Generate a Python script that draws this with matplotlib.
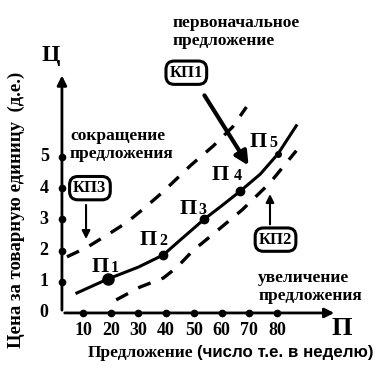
import matplotlib
matplotlib.use("Agg")
import matplotlib.pyplot as plt

# ================= DATA =================
# original supply (solid)
supply_q = [7.8, 19, 30, 39, 45, 53.7, 60, 66.7, 74, 80.4, 87]
supply_p = [0.64, 1.09, 1.47, 1.86, 2.33, 3.0, 3.43, 3.9, 4.45, 5.1, 6.0]
point_q = [19, 39, 53.7, 66.7, 80.4]
point_p = [1.09, 1.86, 3.0, 3.9, 5.1]
point_names = ["1", "2", "3", "4", "5"]

# reduced supply (upper dashed)
up_q = [4.2, 11.4, 19.8, 25.8, 32, 38.5, 49, 57, 64, 69]
up_p = [1.8, 2.1, 2.56, 2.9, 3.35, 3.85, 4.74, 5.35, 5.96, 6.6]

# increased supply (lower dashed)
low_q = [22, 30.6, 39, 44, 49.7, 55.8, 67.4, 77.5, 87]
low_p = [0.42, 0.83, 1.12, 1.47, 2.0, 2.44, 3.3, 4.17, 5.2]

x_ticks = [10, 20, 30, 40, 50, 60, 70, 80]
y_ticks = [0, 1, 2, 3, 4, 5]

SERIF = "Liberation Serif"
SANS = "Liberation Sans"

# ================= FIGURE =================
fig = plt.figure(figsize=(3.88, 3.66), dpi=100)
ax = fig.add_axes([0, 0, 1, 1])
ax.set_xlim(-19.96, 120.1)
ax.set_ylim(-1.70, 10.03)
ax.axis("off")

x0 = 2.4  # where the price axis stands

# axes with arrows
ax.annotate("", xy=(x0, 7.7), xytext=(x0, 0),
            arrowprops=dict(arrowstyle="-|>", lw=2, color="black", mutation_scale=14))
ax.annotate("", xy=(101.7, 0), xytext=(x0, 0),
            arrowprops=dict(arrowstyle="-|>", lw=2, color="black", mutation_scale=14))

# tick dots and labels
ax.plot(x_ticks, [0] * len(x_ticks), "o", color="black", ms=4.5)
ax.plot([x0] * (len(y_ticks) - 1), y_ticks[1:], "o", color="black", ms=4.5)
for q in x_ticks:
    ax.text(q, -0.55, str(q), ha="center", va="center", fontsize=13,
            family=SERIF, weight="bold")
for p in y_ticks:
    ax.text(x0 - 6.4, p, str(p), ha="center", va="center", fontsize=13,
            family=SERIF, weight="bold")

# curves
ax.plot(supply_q, supply_p, color="black", lw=2.2)
ax.plot(up_q, up_p, color="black", lw=2.4, dashes=(4, 3.5))
ax.plot(low_q, low_p, color="black", lw=2.4, dashes=(4, 3.5))
ax.plot(point_q[:1], point_p[:1], "o", color="black", ms=8)
ax.plot(point_q[1:4], point_p[1:4], "o", color="black", ms=6)
ax.plot(point_q[4:], point_p[4:], "o", color="black", ms=4)

# point names
name_pos = [(13.2, 1.31), (30.6, 2.18), (44.7, 3.17), (56.6, 4.26), (70.3, 5.32)]
sub_gap = [6.8, 6.8, 6.8, 7.8, 6.8]
for (q, p), n, g in zip(name_pos, point_names, sub_gap):
    ax.text(q, p, "П", ha="left", va="baseline", fontsize=16,
            family=SERIF, weight="bold")
    ax.text(q + g, p, n, ha="left", va="baseline", fontsize=11.5,
            family=SERIF, weight="bold")

# axis names
ax.text(-1.8, 8.25, "Ц", ha="center", va="center", fontsize=17,
        family=SERIF, weight="bold")
ax.text(103.5, -0.5, "П", ha="center", va="center", fontsize=19,
        family=SERIF, weight="bold")
ax.text(-14.2, 3.3, "Цена за товарную единицу  (д.е.)", rotation=90,
        ha="center", va="center", fontsize=13.5, family=SERIF, weight="bold")
ax.text(11.8, -1.28, "Предложение", ha="left", va="center", fontsize=12.5,
        family=SERIF, weight="bold")
ax.text(51.3, -1.28, "(число т.е. в неделю)", ha="left", va="center",
        fontsize=12.2, family=SANS, weight="bold")

# captions
ax.text(42.2, 9.0, "первоначальное\nпредложение", ha="left", va="center",
        fontsize=12.5, family=SERIF, weight="bold", linespacing=1.15)
ax.text(5.3, 5.38, "сокращение\nпредложения", ha="left", va="center",
        fontsize=12.5, family=SERIF, weight="bold", linespacing=1.15)
ax.text(73.2, 0.83, "увеличение\nпредложения", ha="left", va="center",
        fontsize=12.5, family=SERIF, weight="bold", linespacing=1.15)

# boxed shifts with arrows
box = dict(boxstyle="round,pad=0.22,rounding_size=0.5", fc="white", ec="black", lw=2.2)
ax.text(47.3, 7.7, "КП1", ha="center", va="center", fontsize=12,
        family=SERIF, weight="bold", bbox=box)
ax.text(12.5, 4.0, "КП3", ha="center", va="center", fontsize=12,
        family=SERIF, weight="bold", bbox=box)
ax.text(79.5, 2.35, "КП2", ha="center", va="center", fontsize=12,
        family=SERIF, weight="bold", bbox=box)

ax.annotate("", xy=(70.3, 4.65), xytext=(53.3, 7.05),
            arrowprops=dict(arrowstyle="-|>", lw=3, color="black", mutation_scale=20))
ax.annotate("", xy=(11.1, 2.28), xytext=(11.1, 3.55),
            arrowprops=dict(arrowstyle="-|>", lw=1.5, color="black", mutation_scale=12))
ax.annotate("", xy=(77.5, 3.9), xytext=(77.5, 2.75),
            arrowprops=dict(arrowstyle="-|>", lw=1.5, color="black", mutation_scale=12))

fig.savefig("out.png", dpi=100, facecolor="white")
